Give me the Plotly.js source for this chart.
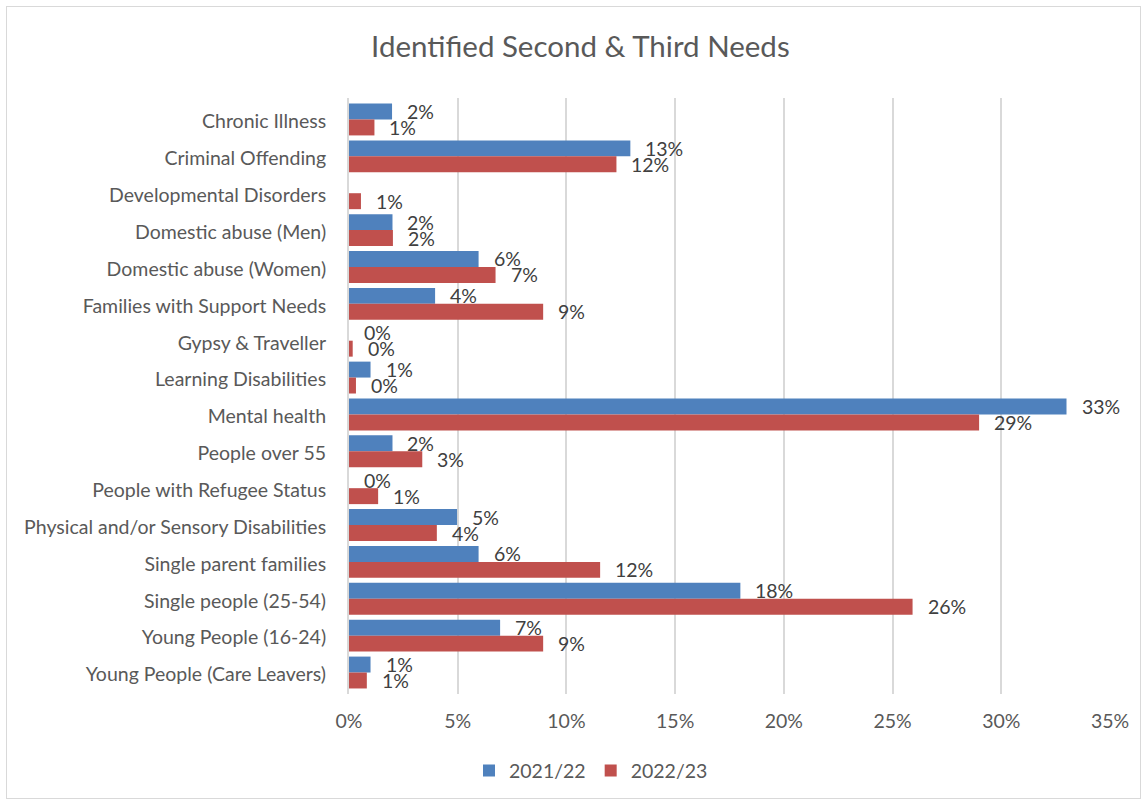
<!DOCTYPE html>
<html>
<head>
<meta charset="utf-8">
<script src="https://cdn.plot.ly/plotly-3.0.1.min.js"></script>
<style>
  html, body { margin: 0; padding: 0; background: #fff; }
  #wrap { position: relative; width: 1147px; height: 805px; }
  #chart { position: absolute; left: 0; top: 0; width: 1147px; height: 805px; }
  #frame { position: absolute; left: 6px; top: 6px; width: 1133px; height: 791px;
           border: 1.5px solid #d9d9d9; pointer-events: none; }
</style>
</head>
<body>
<div id="wrap">
  <div id="chart"></div>
  <div id="frame"></div>
</div>
<script>
// Needs, listed top to bottom
const categories = [
  "Chronic Illness",
  "Criminal Offending",
  "Developmental Disorders",
  "Domestic abuse (Men)",
  "Domestic abuse (Women)",
  "Families with Support Needs",
  "Gypsy & Traveller",
  "Learning Disabilities",
  "Mental health",
  "People over 55",
  "People with Refugee Status",
  "Physical and/or Sensory Disabilities",
  "Single parent families",
  "Single people (25-54)",
  "Young People (16-24)",
  "Young People (Care Leavers)"
];

// Share of clients with each need (fraction of 1); null = not recorded
const share2122 = [0.0198, 0.1294, null, 0.0200, 0.0596, 0.0396, 0, 0.0099, 0.3300, 0.0200, 0, 0.0497, 0.0596, 0.1800, 0.0695, 0.0099];
const share2223 = [0.0117, 0.1230, 0.0055, 0.0202, 0.0674, 0.0893, 0.0017, 0.0032, 0.2898, 0.0337, 0.0134, 0.0404, 0.1155, 0.2592, 0.0893, 0.0082];

const seriesNames = ["2021/22", "2022/23"];
const seriesColors = ["#4f81bd", "#c0504d"];
const tickValues = [0, 0.05, 0.10, 0.15, 0.20, 0.25, 0.30, 0.35];
const tickLabels = ["0%", "5%", "10%", "15%", "20%", "25%", "30%", "35%"];

const FONT = "Lato, 'Open Sans', sans-serif";
const TEXT_SIZE = 19.5;
const BARGAP = 0.135;

const allSeries = [share2122, share2223];

const traces = allSeries.map((vals, s) => ({
  type: "bar",
  orientation: "h",
  name: seriesNames[s],
  y: categories,
  x: vals,
  marker: { color: seriesColors[s], line: { width: 0 } },
  hoverinfo: "skip"
}));

// Value labels sit just beyond each bar end, centred on their own bar
const halfBar = (1 - BARGAP) / 4;
const annotations = [];
allSeries.forEach((vals, s) => {
  vals.forEach((v, i) => {
    if (v === null) return;
    annotations.push({
      xref: "x", yref: "y",
      x: v, y: i + (s === 0 ? -halfBar : halfBar),
      text: Math.round(v * 100) + "%",
      showarrow: false,
      xanchor: "left", yanchor: "middle",
      xshift: 13, yshift: 0,
      font: { family: FONT, size: TEXT_SIZE, color: "#404040" }
    });
  });
});

const layout = {
  width: 1147, height: 805,
  paper_bgcolor: "rgba(0,0,0,0)",
  plot_bgcolor: "#fff",
  margin: { l: 349, r: 37, t: 98, b: 111 },
  font: { family: FONT, size: TEXT_SIZE, color: "#595959" },
  title: {
    text: "Identified Second & Third Needs",
    font: { family: FONT, size: 29.5, color: "#595959" },
    x: 0.506, xanchor: "center",
    y: 0.942, yanchor: "middle"
  },
  barmode: "group",
  bargap: BARGAP,
  bargroupgap: 0,
  xaxis: {
    range: [0, 0.35],
    tickvals: tickValues,
    ticktext: tickLabels,
    showgrid: true,
    gridcolor: "#d9d9d9",
    gridwidth: 2,
    zeroline: false,
    showline: false,
    ticks: "outside",
    ticklen: 10,
    tickcolor: "rgba(0,0,0,0)",
    tickfont: { family: FONT, size: TEXT_SIZE, color: "#595959" },
    fixedrange: true
  },
  yaxis: {
    type: "category",
    categoryorder: "array",
    categoryarray: categories,
    autorange: "reversed",
    showgrid: false,
    zeroline: false,
    showline: true,
    linecolor: "#d9d9d9",
    linewidth: 2,
    ticks: "outside",
    ticklen: 17,
    tickcolor: "rgba(0,0,0,0)",
    ticklabelshift: -2,
    tickfont: { family: FONT, size: TEXT_SIZE, color: "#595959" },
    fixedrange: true
  },
  showlegend: true,
  legend: {
    orientation: "h",
    x: 0.318, xanchor: "center",
    y: -0.129, yanchor: "middle",
    font: { family: FONT, size: TEXT_SIZE, color: "#595959" },
    itemwidth: 30,
    traceorder: "normal"
  },
  annotations: annotations
};

Plotly.newPlot("chart", traces, layout, { displayModeBar: false, staticPlot: true });
</script>
</body>
</html>
